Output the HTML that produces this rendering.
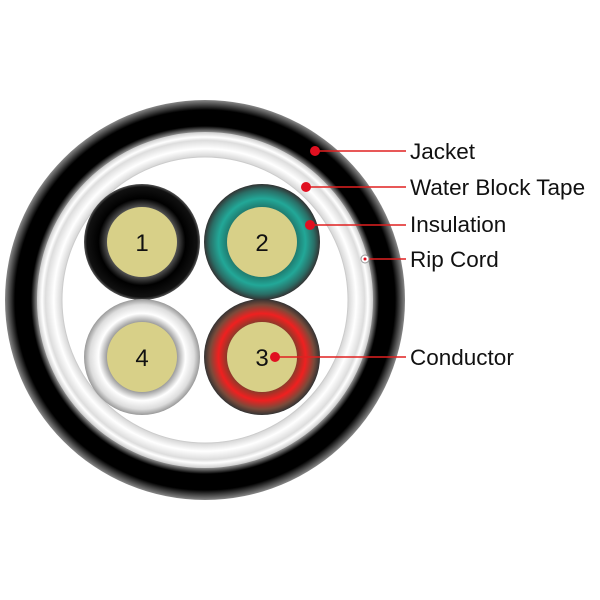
<!DOCTYPE html>
<html><head><style>
body{margin:0;background:#fff}
svg{display:block}
text{font-family:"Liberation Sans",sans-serif;fill:#111}
</style></head><body>
<svg width="600" height="600" viewBox="0 0 600 600">
<defs>
<radialGradient id="jk" cx="205" cy="300" r="200" gradientUnits="userSpaceOnUse">
<stop offset="0.83" stop-color="#bbb"/><stop offset="0.87" stop-color="#000"/><stop offset="0.95" stop-color="#000"/><stop offset="1" stop-color="#888"/></radialGradient>
<radialGradient id="tp" cx="205" cy="300" r="168" gradientUnits="userSpaceOnUse">
<stop offset="0.84" stop-color="#ccc"/><stop offset="0.9" stop-color="#fff"/><stop offset="0.95" stop-color="#ddd"/><stop offset="0.97" stop-color="#fff"/><stop offset="1" stop-color="#ccc"/></radialGradient>
<radialGradient id="c1"><stop offset="0.6" stop-color="#555"/><stop offset="0.75" stop-color="#000"/><stop offset="0.95" stop-color="#111"/><stop offset="1" stop-color="#555"/></radialGradient>
<radialGradient id="c2"><stop offset="0.6" stop-color="#1f7a6e"/><stop offset="0.75" stop-color="#22a898"/><stop offset="0.9" stop-color="#2a6e66"/><stop offset="1" stop-color="#333"/></radialGradient>
<radialGradient id="c3"><stop offset="0.6" stop-color="#8a3a2a"/><stop offset="0.75" stop-color="#f02020"/><stop offset="0.9" stop-color="#7a4a3a"/><stop offset="1" stop-color="#333"/></radialGradient>
<radialGradient id="c4"><stop offset="0.6" stop-color="#999"/><stop offset="0.75" stop-color="#fff"/><stop offset="0.9" stop-color="#ddd"/><stop offset="1" stop-color="#999"/></radialGradient>
</defs>
<circle cx="205" cy="300" r="200" fill="url(#jk)"/>
<circle cx="205" cy="300" r="168" fill="url(#tp)"/>
<circle cx="205" cy="300" r="143" fill="#fff" stroke="#ccc"/>
<g>
<circle cx="142" cy="242" r="58" fill="url(#c1)"/>
<circle cx="262" cy="242" r="58" fill="url(#c2)"/>
<circle cx="262" cy="357" r="58" fill="url(#c3)"/>
<circle cx="142" cy="357" r="58" fill="url(#c4)"/>
<circle cx="142" cy="242" r="35" fill="#d8d088"/>
<circle cx="262" cy="242" r="35" fill="#d8d088"/>
<circle cx="262" cy="357" r="35" fill="#d8d088"/>
<circle cx="142" cy="357" r="35" fill="#d8d088"/>
</g>
<g font-size="24" text-anchor="middle">
<text x="142" y="251">1</text><text x="262" y="251">2</text><text x="262" y="366">3</text><text x="142" y="366">4</text>
</g>
<g stroke="#e02020" stroke-width="1.5">
<line x1="315" y1="151" x2="406" y2="151"/>
<line x1="306" y1="187" x2="406" y2="187"/>
<line x1="310" y1="225" x2="406" y2="225"/>
<line x1="365" y1="259" x2="406" y2="259"/>
<line x1="275" y1="357" x2="406" y2="357"/>
</g>
<g fill="#e01020">
<circle cx="315" cy="151" r="5"/><circle cx="306" cy="187" r="5"/><circle cx="310" cy="225" r="5"/><circle cx="275" cy="357" r="5"/>
</g>
<circle cx="365" cy="259" r="4" fill="#fff" stroke="#999"/>
<circle cx="365" cy="259" r="1.5" fill="#e01020"/>
<g font-size="22.5">
<text x="410" y="159">Jacket</text>
<text x="410" y="195">Water Block Tape</text>
<text x="410" y="232">Insulation</text>
<text x="410" y="267">Rip Cord</text>
<text x="410" y="365">Conductor</text>
</g>
</svg>
</body></html>
